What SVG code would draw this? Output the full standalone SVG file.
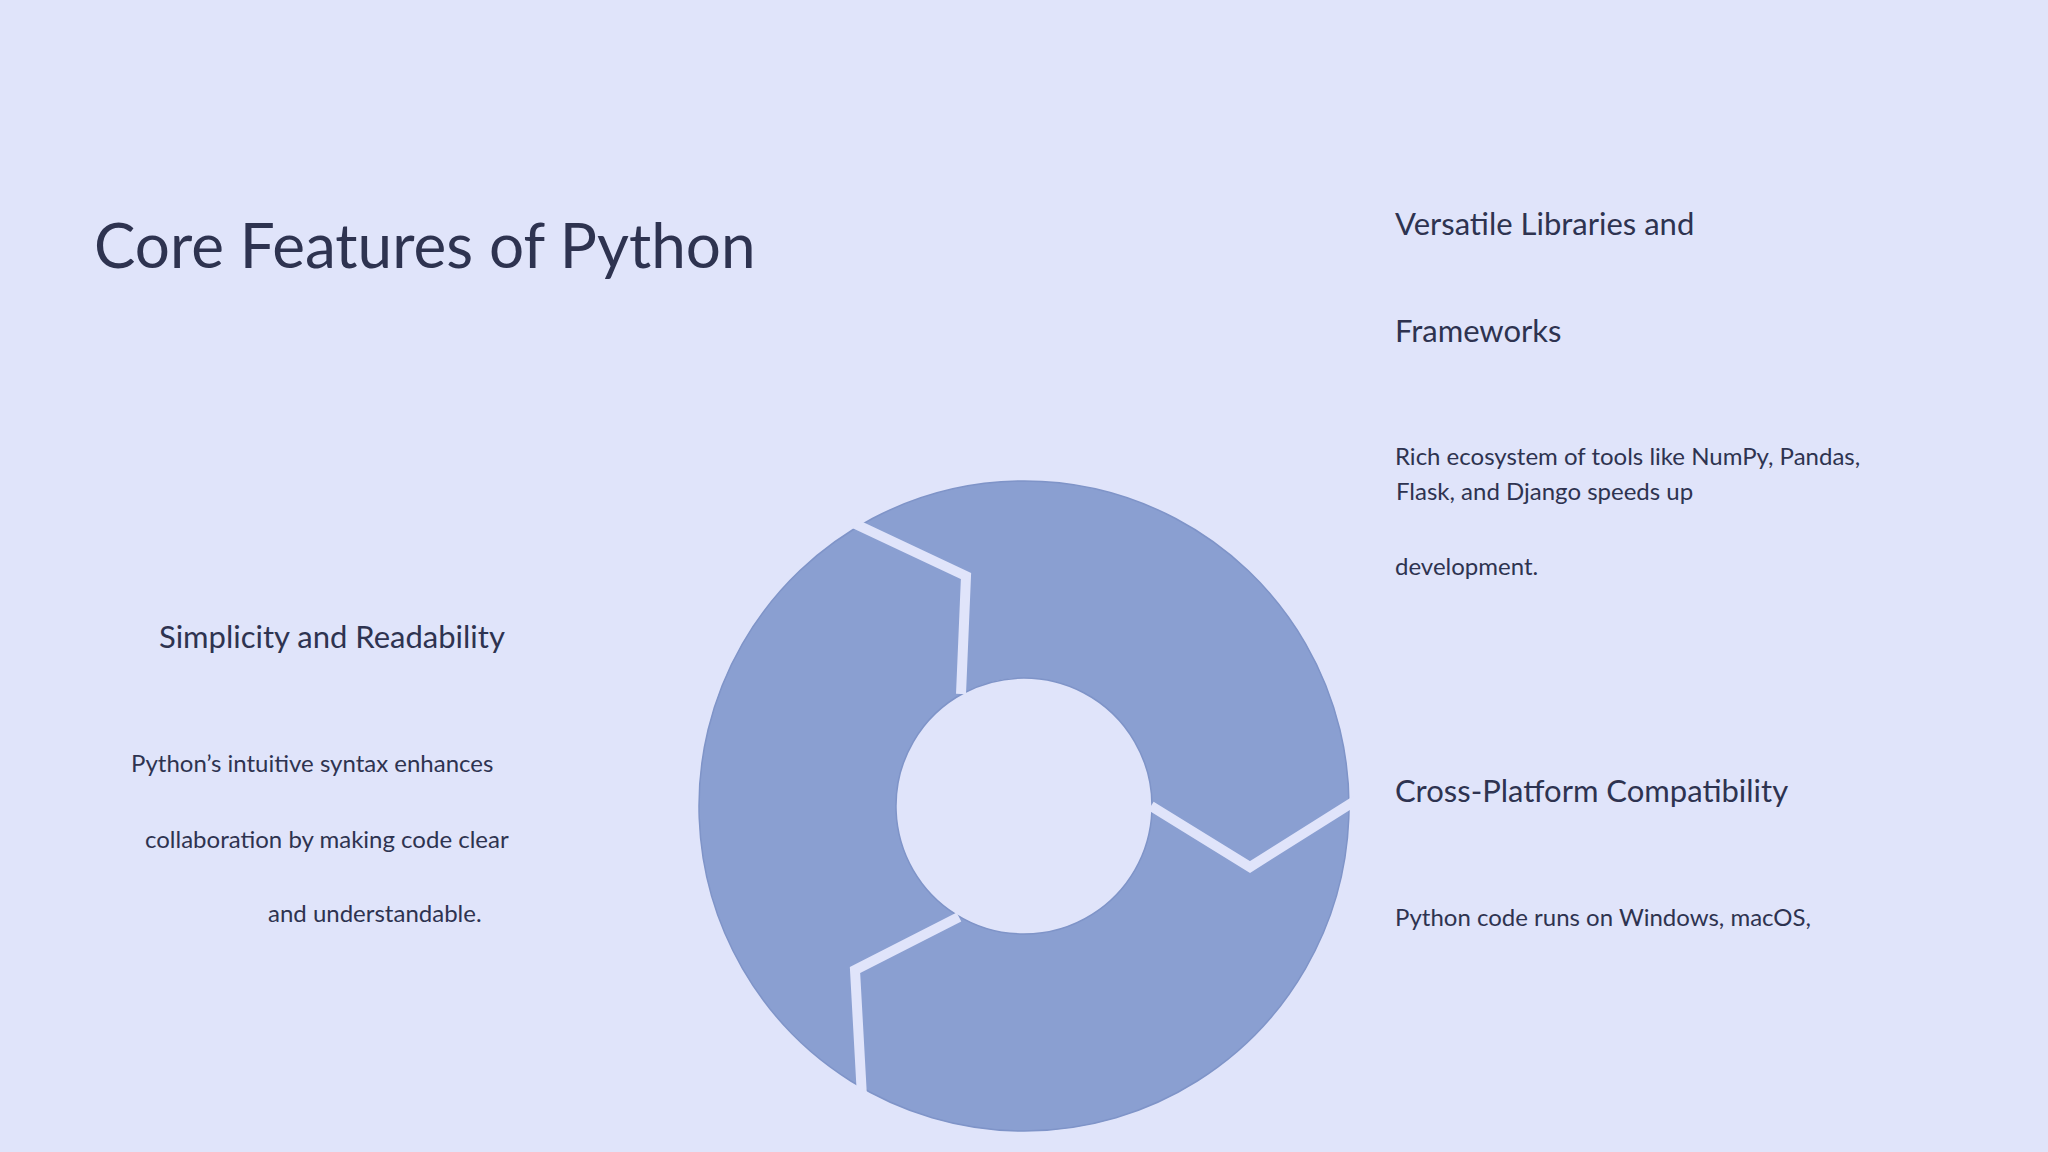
<svg xmlns="http://www.w3.org/2000/svg" width="2048" height="1152" viewBox="0 0 2048 1152">
<style>
text{font-family:Lato,"Open Sans","Liberation Sans",sans-serif;fill:#2e3350}
.h{font-size:31px}.b{font-size:24px}
.cut{fill:none;stroke:#e0e4fa;stroke-width:10;stroke-linejoin:miter}
</style>
<rect width="2048" height="1152" fill="#e0e4fa"/>
<text x="94" y="268" font-size="62">Core Features of Python</text>
<g id="ring">
<path d="M1024,481a325,325 0 1,0 0.01,0ZM1024,678a128,128 0 1,1 -0.01,0Z" fill="#8a9fd1" fill-rule="evenodd" stroke="#7f94c8" stroke-width="1.5"/>
</g>
<g id="connectors">
<polyline class="cut" points="849,521 966,576 961,694"/>
<polyline class="cut" points="1151,806 1250,867 1358,799"/>
<polyline class="cut" points="959,917 855,970 862,1097"/>
</g>
<g id="node-simplicity">
<text class="h" x="159" y="648">Simplicity and Readability</text>
<text class="b" x="131" y="772">Python’s intuitive syntax enhances</text>
<text class="b" x="145" y="848">collaboration by making code clear</text>
<text class="b" x="268" y="922">and understandable.</text>
</g>
<g id="node-libraries">
<text class="h" x="1395" y="235">Versatile Libraries and</text>
<text class="h" x="1395" y="342">Frameworks</text>
<text class="b" x="1395" y="465">Rich ecosystem of tools like NumPy, Pandas,</text>
<text class="b" x="1396" y="500">Flask, and Django speeds up</text>
<text class="b" x="1395" y="575">development.</text>
</g>
<g id="node-crossplatform">
<text class="h" x="1395" y="802">Cross-Platform Compatibility</text>
<text class="b" x="1395" y="926">Python code runs on Windows, macOS,</text>
</g>
</svg>
